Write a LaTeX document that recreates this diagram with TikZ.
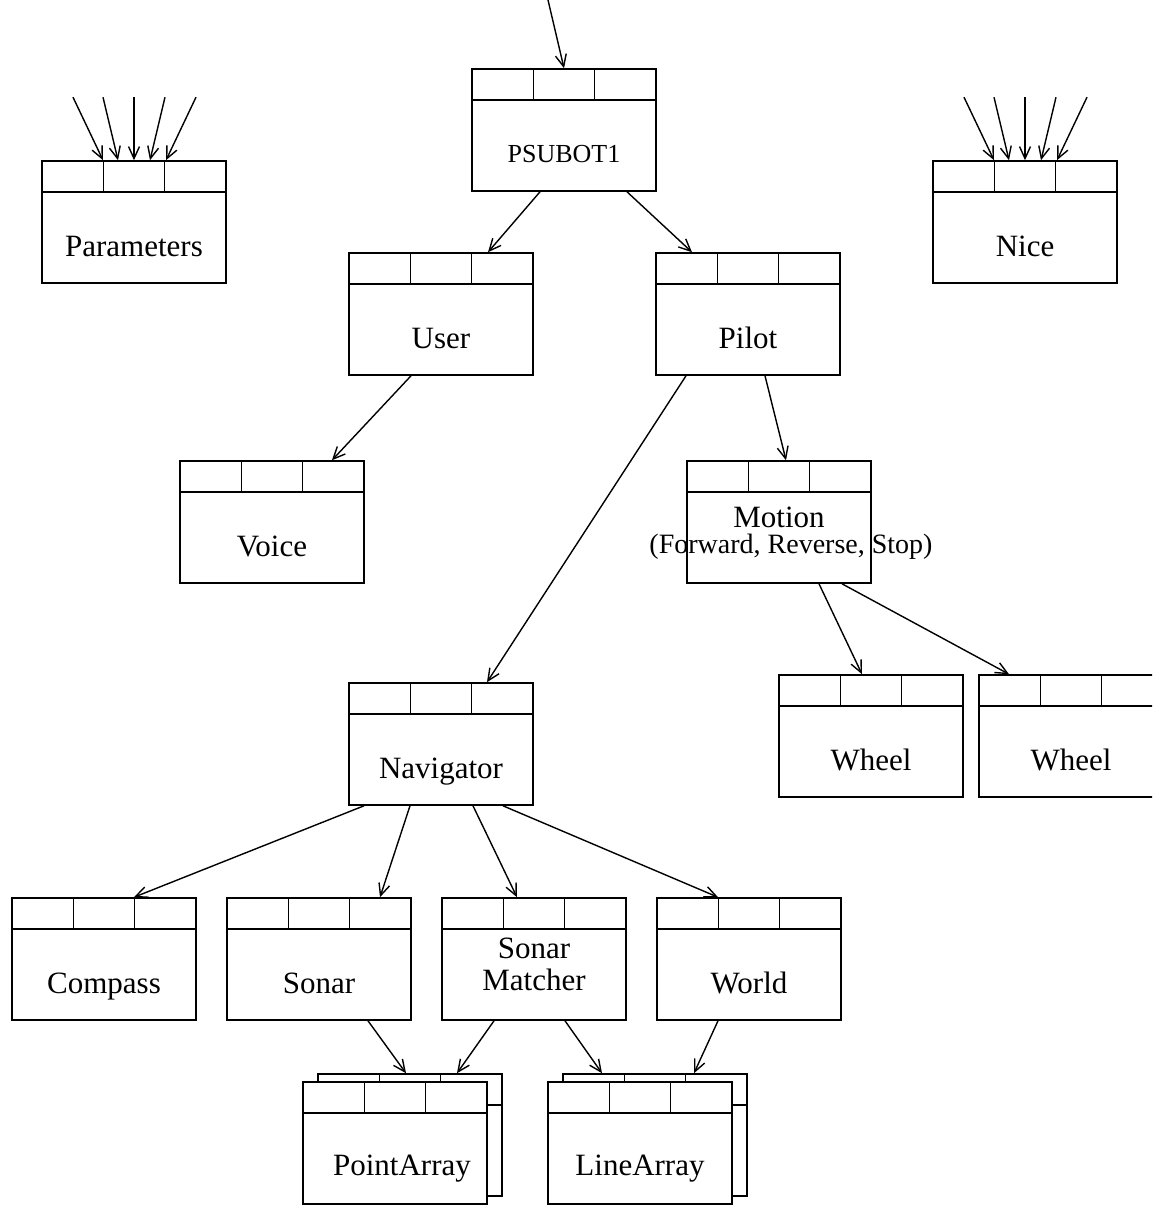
\documentclass[tikz,border=0pt]{standalone}
\usepackage{fontspec}
\setmainfont{Liberation Serif}
\usetikzlibrary{calc}
\usetikzlibrary{arrows.meta}
\tikzset{
    Module/.style = {rectangle, draw=black, line width=0.8pt, fill=white,
        minimum width=92pt, minimum height=61pt, inner sep=0pt,
        path picture={
            \draw[line width=0.8pt] ([yshift=-15.5pt]path picture bounding box.north west)
                -- ([yshift=-15.5pt]path picture bounding box.north east);
            \draw[line width=0.8pt] ([xshift=30.67pt]path picture bounding box.north west) -- ++(0pt,-15.5pt);
            \draw[line width=0.8pt] ([xshift=61.33pt]path picture bounding box.north west) -- ++(0pt,-15.5pt);
        }}
}
\tikzset{
    Edge/.style = {draw=black, line width=0.7pt, -{Straight Barb[length=6pt,width=5.5pt]}}
}

\begin{document}
\begin{tikzpicture}[
    x=0.5pt, y=-0.5pt,
    font=\fontsize{15.5}{16}\selectfont
]
\tikzset{
    Tag/.style = {anchor=base, inner sep=0pt, align=center},
}
\clip (0,0) rectangle (1152,1205);
% modules
\node[Module] at (564,130) (PSUBOT1) {};
\node[Module] at (134,222) (Parameters) {};
\node[Module] at (1025,222) (Nice) {};
\node[Module] at (441,314) (User) {};
\node[Module] at (748,314) (Pilot) {};
\node[Module] at (272,522) (Voice) {};
\node[Module] at (779,522) (Motion) {};
\node[Module] at (441,744) (Navigator) {};
\node[Module] at (871,736) (WheelL) {};
\node[Module] at (1071,736) (WheelR) {};
\node[Module] at (104,959) (Compass) {};
\node[Module] at (319,959) (Sonar) {};
\node[Module] at (534,959) (Matcher) {};
\node[Module] at (749,959) (World) {};
\node[Module] at (410,1135) (PointArrayB) {};
\node[Module] at (395,1143) (PointArray) {};
\node[Module] at (655,1135) (LineArrayB) {};
\node[Module] at (640,1143) (LineArray) {};
% texts
\node[Tag, font=\fontsize{13}{14}\selectfont] at ($(PSUBOT1)+(0,32)$) (tPSUBOT1) {PSUBOT1};
\node[Tag] at ($(Parameters)+(0,34)$) (tParameters) {Parameters};
\node[Tag] at ($(Nice)+(0,34)$) (tNice) {Nice};
\node[Tag] at ($(User)+(0,34)$) (tUser) {User};
\node[Tag] at ($(Pilot)+(0,34)$) (tPilot) {Pilot};
\node[Tag] at ($(Voice)+(0,34)$) (tVoice) {Voice};
\node[Tag] at ($(Motion)+(0,5)$) (tMotion) {Motion};
\node[Tag, font=\fontsize{14}{15}\selectfont] at ($(Motion)+(12,31)$) (tMotionOps) {(Forward, Reverse, Stop)};
\node[Tag] at ($(Navigator)+(0,34)$) (tNavigator) {Navigator};
\node[Tag] at ($(WheelL)+(0,34)$) (tWheelL) {Wheel};
\node[Tag] at ($(WheelR)+(0,34)$) (tWheelR) {Wheel};
\node[Tag] at ($(Compass)+(0,34)$) (tCompass) {Compass};
\node[Tag] at ($(Sonar)+(0,34)$) (tSonar) {Sonar};
\node[Tag] at ($(Matcher)+(0,31)$) (tMatcher) {Sonar\\Matcher};
\node[Tag] at ($(World)+(0,34)$) (tWorld) {World};
\node[Tag] at ($(PointArray)+(7,32)$) (tPointArray) {PointArray};
\node[Tag] at ($(LineArray)+(0,32)$) (tLineArray) {LineArray};
% incoming arrows
\coordinate (top) at (548,0);
\path (top) edge [Edge] (PSUBOT1.north);
\foreach \s/\e [count=\i] in {-61/-31, -31/-16, 0/0, 31/16, 62/32} {
    \coordinate (pin\i) at ($(Parameters.north)+(\s,-63)$);
    \path (pin\i) edge [Edge] ($(Parameters.north)+(\e,0)$);
    \coordinate (nin\i) at ($(Nice.north)+(\s,-63)$);
    \path (nin\i) edge [Edge] ($(Nice.north)+(\e,0)$);
}
% calls
\path ($(PSUBOT1.south)+(-24,0)$) edge [Edge] ($(User.north)+(47,0)$);
\path ($(PSUBOT1.south)+(63,0)$) edge [Edge] ($(Pilot.north)+(-56,0)$);
\path ($(User.south)+(-30,0)$) edge [Edge] ($(Voice.north)+(60,0)$);
\path ($(Pilot.south)+(-62,0)$) edge [Edge] ($(Navigator.north)+(46,0)$);
\path ($(Pilot.south)+(17,0)$) edge [Edge] ($(Motion.north)+(7,0)$);
\path ($(Motion.south)+(40,0)$) edge [Edge] ($(WheelL.north)+(-9,0)$);
\path ($(Motion.south)+(63,0)$) edge [Edge] ($(WheelR.north)+(-62,0)$);
\path ($(Navigator.south)+(-77,0)$) edge [Edge] ($(Compass.north)+(30,0)$);
\path ($(Navigator.south)+(-31,0)$) edge [Edge] ($(Sonar.north)+(61,0)$);
\path ($(Navigator.south)+(32,0)$) edge [Edge] ($(Matcher.north)+(-17,0)$);
\path ($(Navigator.south)+(62,0)$) edge [Edge] ($(World.north)+(-31,0)$);
\path ($(Sonar.south)+(49,0)$) edge [Edge] ($(PointArrayB.north)+(-4,0)$);
\path ($(Matcher.south)+(-40,0)$) edge [Edge] ($(PointArrayB.north)+(47,0)$);
\path ($(Matcher.south)+(31,0)$) edge [Edge] ($(LineArrayB.north)+(-53,0)$);
\path ($(World.south)+(-31,0)$) edge [Edge] ($(LineArrayB.north)+(39,0)$);
\end{tikzpicture}
\end{document}
